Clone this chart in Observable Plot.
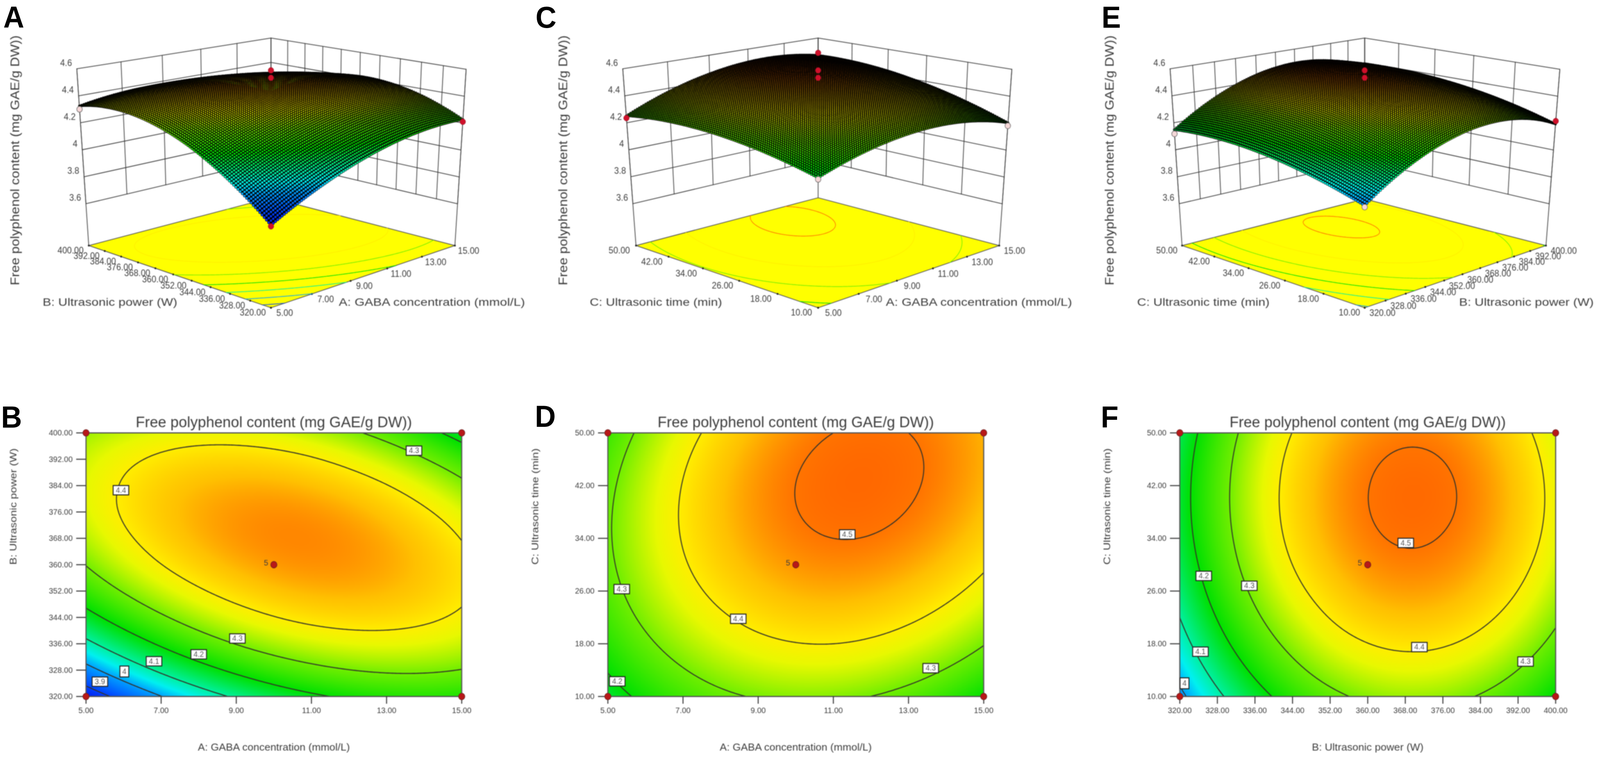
<!DOCTYPE html>
<html>
<head>
<meta charset="utf-8">
<script src="https://cdn.jsdelivr.net/npm/d3@7"></script>
<script src="https://cdn.jsdelivr.net/npm/@observablehq/plot@0.6"></script>
<style>
  html, body { margin: 0; background: #fff; width: 100vw; height: 100vh; overflow: hidden; }
  #page { position: absolute; left: 0; top: 0; width: 4314px; height: 1941px; overflow: hidden; transform-origin: 0 0; font-family: "Liberation Sans"; }
  .panel { position: absolute; }
  .letter { position: absolute; font: bold 78px "Liberation Sans"; line-height: 1; color: #000; }
</style>
</head>
<body>
<div id="page"></div>
<script>
const aTicks = [5, 7, 9, 11, 13, 15];
const bTicks = [320, 328, 336, 344, 352, 360, 368, 376, 384, 392, 400];
const cTicks = [10, 18, 26, 34, 42, 50];
const zTicks = [3.6, 3.8, 4, 4.2, 4.4, 4.6];

const responseTitle = "Free polyphenol content (mg GAE/g DW))";
const aLabel = "A: GABA concentration (mmol/L)";
const bLabel = "B: Ultrasonic power (W)";
const cLabel = "C: Ultrasonic time (min)";

// response read at the tick crossings, rows = first factor, columns = second factor
const abGrid = [
  [3.848, 3.973, 4.081, 4.172, 4.246, 4.302, 4.341, 4.363, 4.367, 4.355, 4.325],
  [3.998, 4.113, 4.210, 4.290, 4.353, 4.399, 4.427, 4.438, 4.432, 4.409, 4.368],
  [4.111, 4.215, 4.302, 4.371, 4.423, 4.458, 4.476, 4.476, 4.459, 4.425, 4.374],
  [4.187, 4.280, 4.356, 4.415, 4.456, 4.480, 4.487, 4.477, 4.449, 4.405, 4.343],
  [4.226, 4.308, 4.373, 4.421, 4.452, 4.465, 4.461, 4.440, 4.402, 4.346, 4.274],
  [4.227, 4.298, 4.353, 4.390, 4.410, 4.413, 4.398, 4.367, 4.317, 4.251, 4.168],
];
const acGrid = [
  [4.167, 4.234, 4.276, 4.293, 4.285, 4.252],
  [4.257, 4.330, 4.379, 4.403, 4.402, 4.376],
  [4.305, 4.386, 4.441, 4.472, 4.478, 4.458],
  [4.312, 4.400, 4.462, 4.500, 4.512, 4.500],
  [4.277, 4.372, 4.441, 4.486, 4.505, 4.500],
  [4.202, 4.303, 4.379, 4.431, 4.457, 4.458],
];
const bcGrid = [
  [3.981, 4.067, 4.127, 4.161, 4.168, 4.149],
  [4.084, 4.170, 4.230, 4.263, 4.270, 4.251],
  [4.168, 4.254, 4.314, 4.347, 4.354, 4.335],
  [4.234, 4.320, 4.380, 4.414, 4.421, 4.401],
  [4.282, 4.369, 4.428, 4.462, 4.469, 4.450],
  [4.313, 4.399, 4.459, 4.492, 4.499, 4.480],
  [4.325, 4.411, 4.471, 4.504, 4.511, 4.492],
  [4.319, 4.405, 4.465, 4.498, 4.506, 4.486],
  [4.295, 4.381, 4.441, 4.475, 4.482, 4.462],
  [4.253, 4.339, 4.399, 4.433, 4.440, 4.420],
  [4.193, 4.279, 4.339, 4.373, 4.380, 4.360],
];

const abLevels = [3.9, 4, 4.1, 4.2, 4.3, 4.4];
const acLevels = [4.2, 4.3, 4.4, 4.5];
const bcLevels = [4, 4.1, 4.2, 4.3, 4.4, 4.5];

// contour value labels: [x, y, level]
const abLabels = [[13.73, 394.6, 4.3], [5.93, 382.6, 4.4], [9.03, 337.6, 4.3], [8, 332.8, 4.2], [6.81, 330.7, 4.1], [6.02, 327.6, 4], [5.37, 324.5, 3.9]];
const acLabels = [[11.37, 34.6, 4.5], [5.37, 26.3, 4.3], [8.47, 21.8, 4.4], [13.59, 14.3, 4.3], [5.25, 12.3, 4.2]];
const bcLabels = [[368.1, 33.3, 4.5], [325.1, 28.3, 4.2], [334.8, 26.8, 4.3], [324.4, 16.8, 4.1], [321, 12, 4], [371, 17.5, 4.4], [393.6, 15.3, 4.3]];

// design points on the 3D plots: [first factor, second factor, response, above surface]
const abDesign = [[5, 400, 4.30, false], [15, 320, 4.21, true], [5, 320, 3.84, true], [10, 360, 4.59, true], [10, 360, 4.535, true]];
const acDesign = [[5, 50, 4.235, true], [15, 10, 4.18, false], [5, 10, 4.157, false], [10, 30, 4.72, true], [10, 30, 4.59, true], [10, 30, 4.535, true]];
const bcDesign = [[320, 50, 4.118, false], [400, 10, 4.215, true], [320, 10, 3.97, false], [360, 30, 4.59, true], [360, 30, 4.535, true]];

const surfaceColor = {
  type: "linear",
  clamp: true,
  domain: [3.8, 3.9, 4.0, 4.05, 4.1, 4.2, 4.3, 4.37, 4.4, 4.45, 4.5, 4.6],
  range: ["#0000d8", "#0040ff", "#00a0ff", "#00f0f0", "#00f0a0", "#00e000", "#70ee00", "#e8f800", "#ffee00", "#ffc000", "#ff7400", "#ff2000"],
};
const blur = "blur(0.9px)";
const textColor = "#3c3c3c";
const tick2 = d3.format(".2f");

function extend(values, i) {
  const n = values.length - 1;
  if (i < 0) return 3 * values[0] - 3 * values[1] + values[2];
  if (i > n) return 3 * values[n] - 3 * values[n - 1] + values[n - 2];
  return values[i];
}

function cubic(p0, p1, p2, p3, t) {
  return p1 + 0.5 * t * (p2 - p0 + t * (2 * p0 - 5 * p1 + 4 * p2 - p3 + t * (3 * (p1 - p2) + p3 - p0)));
}

// smooth lookup in a tick grid, u and v run 0..1 along the two factors
function readGrid(grid, u, v) {
  const nu = grid.length - 1, nv = grid[0].length - 1;
  const iu = Math.min(Math.floor(u * nu), nu - 1), iv = Math.min(Math.floor(v * nv), nv - 1);
  const tu = u * nu - iu, tv = v * nv - iv;
  const across = grid.map((row) =>
    cubic(extend(row, iv - 1), row[iv], row[iv + 1], extend(row, iv + 2), tv),
  );
  return cubic(extend(across, iu - 1), across[iu], across[iu + 1], extend(across, iu + 2), tu);
}

// contour lines of a grid, in 0..1 coordinates, without the parts that run along the rim
function contourRuns(grid, levels) {
  const n = 240;
  const values = new Float64Array(n * n);
  for (let j = 0; j < n; j++) {
    for (let i = 0; i < n; i++) {
      values[i + j * n] = readGrid(grid, i / (n - 1), j / (n - 1));
    }
  }
  const runs = [];
  for (const contour of d3.contours().size([n, n]).thresholds(levels)(values)) {
    for (const polygon of contour.coordinates) {
      for (const ring of polygon) {
        let run = [];
        for (const [x, y] of ring) {
          if (x <= 0 || x >= n || y <= 0 || y >= n) {
            if (run.length > 1) runs.push({ level: contour.value, points: run });
            run = [];
          } else {
            run.push([(x - 0.5) / (n - 1), (y - 0.5) / (n - 1)]);
          }
        }
        if (run.length > 1) runs.push({ level: contour.value, points: run });
      }
    }
  }
  return runs;
}

const abRuns = contourRuns(abGrid, abLevels);
const acRuns = contourRuns(acGrid, acLevels);
const bcRuns = contourRuns(bcGrid, bcLevels);

function homography(p00, p10, p11, p01) {
  const [x0, y0] = p00, [x1, y1] = p10, [x2, y2] = p11, [x3, y3] = p01;
  const dx1 = x1 - x2, dx2 = x3 - x2, sx = x0 - x1 + x2 - x3;
  const dy1 = y1 - y2, dy2 = y3 - y2, sy = y0 - y1 + y2 - y3;
  const den = dx1 * dy2 - dx2 * dy1;
  const g = (sx * dy2 - dx2 * sy) / den, h = (dx1 * sy - sx * dy1) / den;
  const a = x1 - x0 + g * x1, b = x3 - x0 + h * x3;
  const d = y1 - y0 + g * y1, e = y3 - y0 + h * y3;
  return (u, v) => {
    const w = g * u + h * v + 1;
    return [(a * u + b * v + x0) / w, (d * u + e * v + y0) / w];
  };
}

const zFloor = 3.29, zTop = 4.6;
const topRowHeight = 960;

function makeView(opts) {
  const floorAt = homography(opts.floor.front, opts.floor.right, opts.floor.back, opts.floor.left);
  const topAt = homography(opts.top.front, opts.top.right, opts.top.back, opts.top.left);
  const project = (u, v, z) => {
    const f = floorAt(u, v), t = topAt(u, v), w = (z - zFloor) / (zTop - zFloor);
    return { x: f[0] + (t[0] - f[0]) * w, y: f[1] + (t[1] - f[1]) * w };
  };
  return { ...opts, project };
}

const views = [
  makeView({
    grid: abGrid, runs: abRuns, design: abDesign, uTicks: aTicks, vTicks: bTicks,
    uLabel: aLabel, vLabel: bLabel, uLabelAt: [1164, 774], vLabelAt: [296, 774], titleX: 41,
    leftShift: [-49, 13], rightShift: [37, 14],
    floor: { front: [730.1, 787.6], right: [1226, 628.3], left: [238.8, 628.3], back: [730.1, 505.9] },
    top: { front: [730.1, 290.8], right: [1256.3, 176.9], left: [206.6, 175.7], back: [730.1, 96.9] },
  }),
  makeView({
    grid: acGrid, runs: acRuns, design: acDesign, uTicks: aTicks, vTicks: cTicks,
    uLabel: aLabel, vLabel: cLabel, uLabelAt: [2639, 774], vLabelAt: [1768, 774], titleX: 1518,
    leftShift: [-45, 13], rightShift: [41, 14],
    floor: { front: [2205.4, 787.6], right: [2693.8, 628.3], left: [1714.3, 628.3], back: [2205.4, 505.9] },
    top: { front: [2205.4, 290.8], right: [2727.7, 176.9], left: [1678.6, 175.7], back: [2205.4, 96.9] },
  }),
  makeView({
    grid: bcGrid, runs: bcRuns, design: bcDesign, uTicks: bTicks, vTicks: cTicks,
    uLabel: bLabel, vLabel: cLabel, uLabelAt: [4115, 774], vLabelAt: [3244, 774], titleX: 2992,
    leftShift: [-41, 13], rightShift: [48, 14],
    floor: { front: [3679, 787.6], right: [4167.8, 628.3], left: [3186.6, 628.3], back: [3679, 509] },
    top: { front: [3679, 290.8], right: [4205.2, 176.9], left: [3154.4, 175.7], back: [3679, 96.9] },
  }),
];

function unit(ticks, value) {
  return (value - ticks[0]) / (ticks[ticks.length - 1] - ticks[0]);
}

function surfaceMarks(view) {
  const { project, uTicks, vTicks, grid } = view;
  const walls = [];
  let id = 0;
  const seg = (from, to) => {
    walls.push({ ...from, id }, { ...to, id });
    id++;
  };

  for (const z of zTicks) {
    seg(project(0, 1, z), project(1, 1, z));
    seg(project(1, 1, z), project(1, 0, z));
  }
  for (const t of uTicks) seg(project(unit(uTicks, t), 1, zTicks[0]), project(unit(uTicks, t), 1, zTop));
  for (const t of vTicks) seg(project(1, unit(vTicks, t), zTicks[0]), project(1, unit(vTicks, t), zTop));
  seg(project(0, 1, zFloor), project(0, 1, zTop));
  seg(project(1, 0, zFloor), project(1, 0, zTop));
  seg(project(1, 1, zFloor), project(1, 1, zTop));

  const floorRing = [[0, 0], [1, 0], [1, 1], [0, 1], [0, 0]].map(([u, v]) => project(u, v, zFloor));

  const floorTicks = [
    ...uTicks.map((t) => project(unit(uTicks, t), 0, zFloor)),
    ...vTicks.map((t) => project(0, unit(vTicks, t), zFloor)),
  ];

  const floorContours = view.runs.flatMap((run, i) =>
    run.points.map(([u, v]) => ({ ...project(u, v, zFloor), level: run.level, line: i })),
  );

  // dots shrink where the mesh is squeezed, so the far slope closes up to black
  const steps = 100;
  const nodes = d3.range(steps + 1).map((i) =>
    d3.range(steps + 1).map((j) => {
      const u = i / steps, v = j / steps, value = readGrid(grid, u, v);
      return { ...project(u, v, value), value, depth: u + v };
    }),
  );
  const mesh = [];
  for (let i = 0; i <= steps; i++) {
    for (let j = 0; j <= steps; j++) {
      const i0 = Math.min(i, steps - 1), j0 = Math.min(j, steps - 1);
      const p = nodes[i0][j0], q = nodes[i0 + 1][j0], s = nodes[i0][j0 + 1];
      const area = Math.abs((q.x - p.x) * (s.y - p.y) - (q.y - p.y) * (s.x - p.x));
      mesh.push({ ...nodes[i][j], size: Math.max(0.35, Math.min(3.6, 0.62 * Math.sqrt(area) - 1)) });
    }
  }
  const ordered = d3.sort(mesh, (d) => -d.depth);

  const rim = [
    ...d3.range(steps + 1).map((s) => nodes[s][0]),
    ...d3.range(steps + 1).map((s) => nodes[steps][s]),
    ...d3.range(steps + 1).map((s) => nodes[steps - s][steps]),
    ...d3.range(steps + 1).map((s) => nodes[0][steps - s]),
  ];

  const design = view.design.map(([p, q, z, above]) => ({
    ...project(unit(uTicks, p), unit(vTicks, q), z),
    above,
  }));

  const zLabels = zTicks.map((z) => ({ ...project(0, 1, z), label: String(z) }));
  const uLabels = uTicks.map((t) => ({ ...project(unit(uTicks, t), 0, zFloor), label: tick2(t) }));
  const vLabels = vTicks.map((t) => ({ ...project(0, unit(vTicks, t), zFloor), label: tick2(t) }));

  return [
    Plot.line(walls, { x: "x", y: "y", z: "id", stroke: "#333", strokeWidth: 1.8 }),
    Plot.line(floorRing, { x: "x", y: "y", fill: "#ffff00", stroke: "#555", strokeWidth: 2 }),
    Plot.dot(floorTicks, { x: "x", y: "y", r: 2.5, fill: "#222" }),
    Plot.line(floorContours, { x: "x", y: "y", z: "line", stroke: "level", strokeWidth: 1.7 }),
    Plot.line(rim, { x: "x", y: "y", fill: "#000", stroke: "#000", strokeWidth: 2 }),
    Plot.dot(ordered, { x: "x", y: "y", r: 3.2, fill: "#000" }),
    Plot.dot(ordered, { x: "x", y: "y", fill: "value", r: "size", sort: null, stroke: "#000", strokeWidth: 1 }),
    Plot.dot(design.filter((d) => d.above), { x: "x", y: "y", r: 7.5, fill: "#d0102a", stroke: "#8a1020", strokeWidth: 1 }),
    Plot.dot(design.filter((d) => !d.above), { x: "x", y: "y", r: 7.5, fill: "#f6d8d8", stroke: "#666", strokeWidth: 1.5 }),
    Plot.text(zLabels, { x: "x", y: "y", text: "label", dx: -13, dy: -15, textAnchor: "end", fontSize: 23, fill: textColor }),
    Plot.text(uLabels, { x: "x", y: "y", text: "label", dx: view.rightShift[0], dy: view.rightShift[1], fontSize: 23, fill: textColor }),
    Plot.text(vLabels, { x: "x", y: "y", text: "label", dx: view.leftShift[0], dy: view.leftShift[1], fontSize: 23, fill: textColor }),
    Plot.text([view.uLabel], { x: view.uLabelAt[0], y: view.uLabelAt[1], text: (d) => d, fontSize: 28, fill: textColor }),
    Plot.text([view.vLabel], { x: view.vLabelAt[0], y: view.vLabelAt[1], text: (d) => d, fontSize: 28, fill: textColor }),
    Plot.text([responseTitle], { x: view.titleX, y: 410, text: (d) => d, rotate: -90, fontSize: 33, fill: textColor }),
  ];
}

function fitLabels(chart, lengths) {
  chart.querySelectorAll("text").forEach((t) => {
    const length = lengths[t.textContent];
    if (length) {
      t.setAttribute("textLength", length);
      t.setAttribute("lengthAdjust", "spacingAndGlyphs");
    }
  });
}

function addPanel(chart, left, top) {
  chart.classList.add("panel");
  chart.style.left = `${left}px`;
  chart.style.top = `${top}px`;
  document.getElementById("page").appendChild(chart);
}

function drawTopRow() {
  const chart = Plot.plot({
    width: 4314,
    height: topRowHeight,
    margin: 0,
    style: { background: "transparent", fontFamily: '"Liberation Sans"', filter: blur },
    x: { domain: [0, 4314], range: [0, 4314], axis: null },
    y: { domain: [0, topRowHeight], range: [0, topRowHeight], axis: null },
    r: { type: "identity" },
    color: surfaceColor,
    marks: views.flatMap(surfaceMarks),
  });
  fitLabels(chart, {
    [responseTitle]: 640,
    [aLabel]: 502,
    [bLabel]: 363,
    [cLabel]: 357,
  });
  addPanel(chart, 0, 0);
}

// contour panels, the plot frame sits at y 1108..1783 on the page
const bottomTop = 1040, bottomHeight = 901;

function drawContourPanel(opts) {
  const { xTicks, yTicks, grid, runs, labels } = opts;
  const xDomain = [xTicks[0], xTicks[xTicks.length - 1]];
  const yDomain = [yTicks[0], yTicks[yTicks.length - 1]];
  const lines = runs.flatMap((run, i) =>
    run.points.map(([u, v]) => ({
      x: xDomain[0] + u * (xDomain[1] - xDomain[0]),
      y: yDomain[0] + v * (yDomain[1] - yDomain[0]),
      line: i,
    })),
  );
  const boxes = labels.map(([x, y, level]) => ({ x, y, level, text: String(level) }));
  const corners = [
    { x: xDomain[0], y: yDomain[0] },
    { x: xDomain[0], y: yDomain[1] },
    { x: xDomain[1], y: yDomain[0] },
    { x: xDomain[1], y: yDomain[1] },
  ];
  const centre = { x: (xDomain[0] + xDomain[1]) / 2, y: (yDomain[0] + yDomain[1]) / 2 };
  const wideBox = { draw: (ctx) => ctx.rect(-21, -12, 42, 24) };
  const slimBox = { draw: (ctx) => ctx.rect(-12, -14, 24, 28) };

  const chart = Plot.plot({
    width: opts.width,
    height: bottomHeight,
    marginLeft: opts.marginLeft,
    marginRight: opts.marginRight,
    marginTop: 1108 - bottomTop,
    marginBottom: bottomHeight - (1783 - bottomTop),
    style: { background: "transparent", fontFamily: '"Liberation Sans"', filter: blur },
    x: { domain: xDomain },
    y: { domain: yDomain },
    color: surfaceColor,
    marks: [
      Plot.raster({
        x1: xDomain[0], x2: xDomain[1], y1: yDomain[0], y2: yDomain[1], pixelSize: 2,
        fill: (x, y) => readGrid(grid, unit(xTicks, x), unit(yTicks, y)),
      }),
      Plot.line(lines, { x: "x", y: "y", z: "line", stroke: "#33332a", strokeWidth: 2.6, clip: true }),
      Plot.frame({ stroke: "#555", strokeWidth: 3 }),
      Plot.axisX({ ticks: xTicks, tickFormat: tick2, tickSize: 19, tickPadding: 9, fontSize: 21, strokeWidth: 2.6, stroke: "#333", color: textColor, label: null }),
      Plot.axisY({ ticks: yTicks, tickFormat: tick2, tickSize: 26, tickPadding: 10, fontSize: 21, strokeWidth: 2.6, stroke: "#333", color: textColor, label: null }),
      Plot.dot(boxes.filter((d) => d.level !== 4), { x: "x", y: "y", symbol: wideBox, r: 5, fill: "#fff", stroke: "#222", strokeWidth: 2.5 }),
      Plot.dot(boxes.filter((d) => d.level === 4), { x: "x", y: "y", symbol: slimBox, r: 5, fill: "#fff", stroke: "#222", strokeWidth: 2.5 }),
      Plot.text(boxes, { x: "x", y: "y", text: "text", fontSize: 20, fill: "#555" }),
      Plot.dot(corners, { x: "x", y: "y", r: 8.5, fill: "#b81818", stroke: "#6a2020", strokeWidth: 1.5 }),
      Plot.dot([centre], { x: "x", y: "y", r: 8.5, fill: "#b81818", stroke: "#6a2020", strokeWidth: 1.5 }),
      Plot.text([centre], { x: "x", y: "y", text: () => "5", dx: -21, dy: -5, fontSize: 21, fill: textColor }),
      Plot.text([responseTitle], { frameAnchor: "top", lineAnchor: "middle", dy: -27, text: (d) => d, fontSize: 38, fill: textColor }),
      Plot.text([opts.xLabel], { frameAnchor: "bottom", lineAnchor: "middle", dy: 130, text: (d) => d, fontSize: 25, fill: textColor }),
      Plot.text([opts.yLabel], { frameAnchor: "left", lineAnchor: "middle", dx: -196, rotate: -90, text: (d) => d, fontSize: 26, fill: textColor }),
    ],
  });
  fitLabels(chart, { [responseTitle]: 745, [opts.xLabel]: opts.xLabelLength, [opts.yLabel]: 298 });
  addPanel(chart, opts.left, bottomTop);
}

function addLetters() {
  const page = document.getElementById("page");
  const letters = [
    ["A", 9, 5], ["B", 3, 1029], ["C", 1444, 5], ["D", 1442, 1027], ["E", 2970, 5], ["F", 2968, 1029],
  ];
  for (const [text, left, top] of letters) {
    const el = document.createElement("div");
    el.className = "letter";
    el.textContent = text;
    el.style.left = `${left}px`;
    el.style.top = `${top}px`;
    page.appendChild(el);
  }
}

// the layout is in the reference's pixels, fit it to the window we get
document.getElementById("page").style.transform =
  `scale(${innerWidth / 4314}, ${innerHeight / 1941})`;

drawTopRow();
drawContourPanel({
  left: 0, width: 1420, marginLeft: 231.4, marginRight: 175.6,
  xTicks: aTicks, yTicks: bTicks, grid: abGrid, runs: abRuns, labels: abLabels,
  xLabel: aLabel, yLabel: bLabel, xLabelLength: 410,
});
drawContourPanel({
  left: 1420, width: 1520, marginLeft: 218.4, marginRight: 288.2,
  xTicks: aTicks, yTicks: cTicks, grid: acGrid, runs: acRuns, labels: acLabels,
  xLabel: aLabel, yLabel: cLabel, xLabelLength: 410,
});
drawContourPanel({
  left: 2960, width: 1354, marginLeft: 220.5, marginRight: 120.1,
  xTicks: bTicks, yTicks: cTicks, grid: bcGrid, runs: bcRuns, labels: bcLabels,
  xLabel: bLabel, yLabel: cLabel, xLabelLength: 301,
});
addLetters();
</script>
</body>
</html>
